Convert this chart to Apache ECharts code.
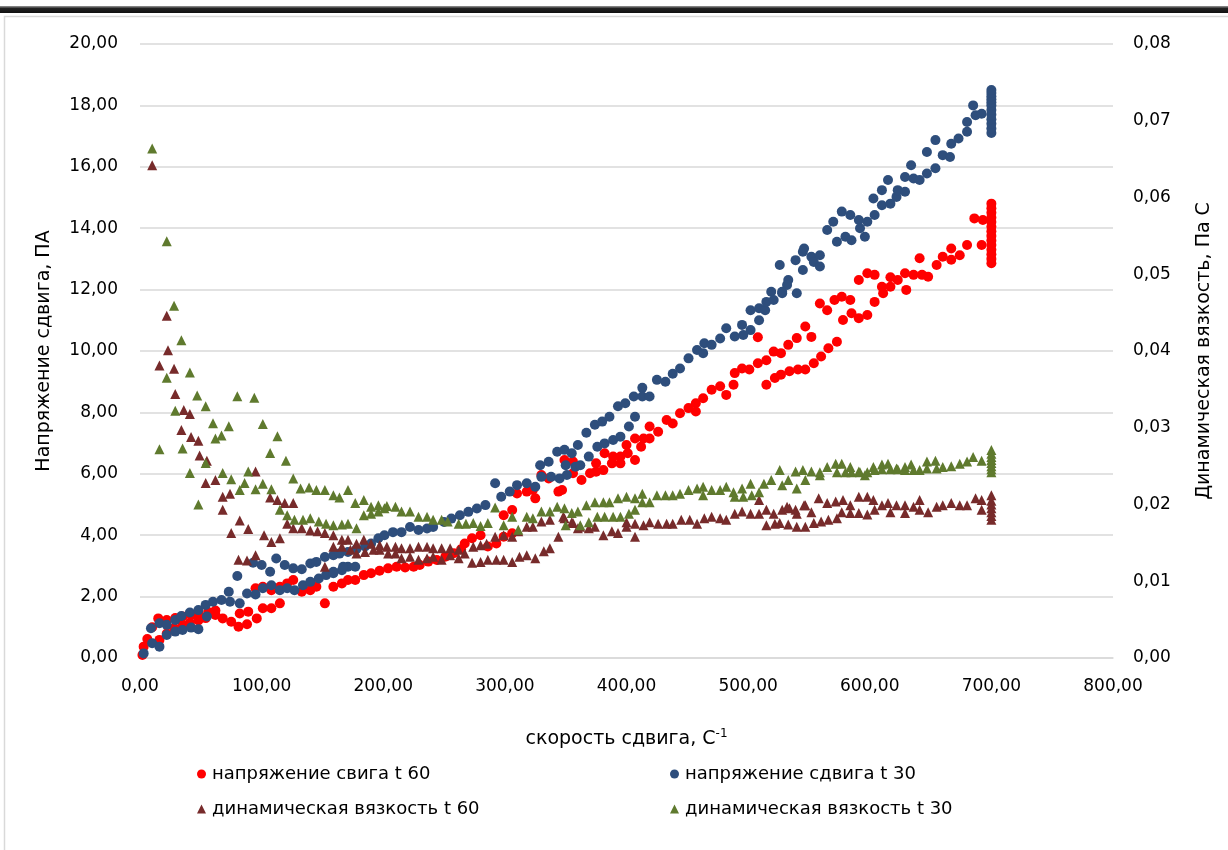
<!DOCTYPE html>
<html>
<head>
<meta charset="utf-8">
<script src="https://cdn.jsdelivr.net/npm/echarts@6/dist/echarts.min.js"></script>
<style>
html,body{margin:0;padding:0;background:#fff;}
#chart{width:1228px;height:850px;}
</style>
</head>
<body>
<div id="chart"></div>
<script>
// ---- data ----
const seriesNames = [
  'напряжение свига t 60',
  'напряжение сдвига t 30',
  'динамическая вязкость t 60',
  'динамическая вязкость t 30'
];
const xAxisTitle = 'скорость сдвига, С';
const xAxisTitleSup = '-1';
const yLeftTitle = 'Напряжение сдвига, ПА';
const yRightTitle = 'Динамическая вязкость, Па С';

// shear stress t 60 (left axis)
const redStress = [
[2,0.10],[3,0.37],[6,0.62],[10,1.00],[15,1.29],[16,0.59],[22,1.24],[22,0.80],[28,0.98],[29,1.30],
[35,1.08],[35,1.35],[41,1.15],[42,1.40],[48,1.22],[48,1.45],[54,1.30],[56,1.50],[62,1.40],[62,1.55],
[68,1.29],[75,1.18],[81,1.02],[82,1.45],[88,1.10],[89,1.51],[96,1.29],[95,2.27],[101,1.62],[101,2.32],
[108,1.62],[108,2.21],[115,1.78],[115,2.32],[121,2.43],[126,2.54],[133,2.16],[140,2.21],[145,2.32],[152,1.78],
[159,2.32],[166,2.43],[171,2.54],[177,2.54],[184,2.70],[190,2.76],[197,2.84],[204,2.92],[211,2.97],[218,2.95],
[225,2.97],[230,3.03],[237,3.14],[244,3.19],[251,3.30],[258,3.41],[264,3.54],[267,3.73],[273,3.90],[280,4.00],
[286,3.63],[293,3.73],[299,3.95],[306,4.06],[299,4.65],[306,4.82],[310,5.36],[318,5.42],[325,5.20],[323,5.47],
[330,5.96],[336,5.85],[344,5.42],[347,5.47],[349,6.45],[356,6.40],[356,6.02],[363,5.80],[370,6.02],[375,6.34],
[375,6.07],[381,6.12],[382,6.67],[388,6.34],[389,6.56],[395,6.34],[395,6.56],[400,6.94],[401,6.67],[407,6.45],
[407,7.15],[412,6.88],[414,7.15],[419,7.54],[419,7.15],[426,7.37],[433,7.75],[438,7.64],[444,7.97],[451,8.14],
[457,8.03],[457,8.30],[463,8.46],[470,8.74],[477,8.85],[482,8.57],[488,8.90],[489,9.28],[495,9.43],[501,9.40],
[508,9.60],[508,10.45],[515,9.70],[521,9.98],[527,9.93],[533,10.20],[540,10.42],[547,10.80],[515,8.90],[522,9.12],
[527,9.23],[534,9.34],[541,9.40],[547,9.40],[554,9.60],[560,9.82],[566,10.09],[573,10.30],[552,10.46],[559,11.55],
[565,11.33],[571,11.66],[577,11.77],[584,11.66],[578,11.01],[585,11.23],[591,11.07],[598,11.17],[604,11.60],[591,12.31],
[598,12.53],[604,12.48],[610,12.09],[611,11.88],[617,12.40],[617,12.09],[623,12.31],[629,12.53],[630,11.99],[636,12.48],
[641,13.02],[643,12.48],[648,12.42],[655,12.80],[660,13.07],[667,12.97],[667,13.34],[674,13.12],[680,13.45],[686,14.32],
[692,13.45],[693,14.27],
[700,12.86],[700,13.00],[700,13.15],[700,13.30],[700,13.45],[700,13.60],[700,13.75],[700,13.90],[700,14.05],[700,14.20],
[700,14.35],[700,14.50],[700,14.65],[700,14.80]
];

// shear stress t 30 (left axis)
const blueStress = [
[3,0.15],[10,0.48],[16,0.37],[9,0.97],[16,1.13],[22,1.08],[29,1.24],[34,1.37],[41,1.48],[48,1.56],
[54,1.73],[60,1.83],[67,1.89],[22,0.75],[29,0.86],[35,0.91],[42,0.99],[48,0.94],[55,1.35],[73,2.16],
[80,2.67],[74,1.83],[82,1.78],[88,2.10],[95,2.07],[101,2.27],[108,2.37],[115,2.21],[121,2.27],[127,2.21],
[134,2.37],[140,2.48],[147,2.59],[153,2.70],[159,2.81],[166,2.86],[171,2.97],[159,2.76],[167,2.97],[177,2.97],
[93,3.10],[100,3.03],[107,2.81],[112,3.24],[119,3.03],[126,2.92],[133,2.89],[140,3.08],[145,3.13],[152,3.29],
[159,3.35],[164,3.40],[171,3.45],[178,3.55],[185,3.63],[190,3.73],[196,3.90],[201,4.00],[208,4.10],[215,4.10],
[222,4.27],[229,4.17],[236,4.22],[241,4.27],[250,4.43],[256,4.54],[263,4.65],[270,4.76],[277,4.87],[284,4.98],
[292,5.69],[297,5.25],[304,5.42],[310,5.63],[318,5.69],[325,5.58],[329,6.28],[336,6.39],[343,6.72],[349,6.78],
[355,6.67],[360,6.94],[330,5.90],[338,5.90],[345,5.85],[351,5.96],[358,6.23],[350,6.28],[362,6.28],[369,6.56],
[376,6.88],[382,6.99],[389,7.10],[395,7.21],[402,7.54],[407,7.86],[367,7.34],[374,7.60],[380,7.70],[386,7.86],
[393,8.20],[399,8.30],[406,8.52],[413,8.80],[413,8.52],[419,8.52],[425,9.06],[432,9.00],[438,9.26],[444,9.43],
[451,9.76],[458,10.03],[463,9.93],[464,10.25],[470,10.20],[477,10.41],[482,10.74],[489,10.47],[495,10.85],[496,10.52],
[502,10.68],[509,11.00],[502,11.33],[509,11.39],[514,11.33],[515,11.60],[521,11.66],[519,11.93],[528,11.88],[533,12.31],
[540,11.88],[526,12.80],[539,12.96],[545,12.64],[545,13.23],[532,12.15],[528,11.93],[546,13.34],[552,13.07],[554,12.90],
[559,13.12],[559,12.75],[565,13.94],[570,14.21],[573,13.56],[577,14.54],[580,13.72],[584,14.43],[585,13.61],[591,14.27],
[592,14.00],[596,13.72],[598,14.21],[604,14.43],[603,14.97],[610,14.75],[610,15.24],[615,15.57],[617,14.80],[622,15.02],
[623,15.24],[629,15.19],[629,15.67],[634,16.05],[636,15.62],[641,15.57],[647,15.78],[647,16.48],[654,16.87],[654,15.95],
[660,16.38],[666,16.32],[667,16.75],[673,16.92],[680,17.14],[680,17.46],[685,18.00],[687,17.68],[692,17.73],
[700,17.10],[700,17.25],[700,17.40],[700,17.55],[700,17.70],[700,17.85],[700,18.00],[700,18.10],[700,18.20],[700,18.30],
[700,18.40],[700,18.50]
];

// dynamic viscosity t 60 (right axis)
const brownVisc = [
[10,0.0642],[22,0.0446],[23,0.0401],[16,0.0381],[28,0.0377],[29,0.0344],[36,0.0323],[41,0.0318],[34,0.0297],[42,0.0288],
[48,0.0283],[49,0.0264],[55,0.0257],[54,0.0228],[62,0.0232],[68,0.0210],[74,0.0214],[68,0.0193],[75,0.0163],[82,0.0179],
[89,0.0168],[95,0.0243],[81,0.0128],[88,0.0127],[95,0.0134],[102,0.0160],[108,0.0151],[107,0.0209],[113,0.0206],[119,0.0202],
[126,0.0202],[121,0.0175],[126,0.0169],[133,0.0169],[140,0.0166],[146,0.0165],[152,0.0163],[115,0.0156],[152,0.0119],
[159,0.0160],[166,0.0154],[171,0.0154],[178,0.0149],[184,0.0154],[190,0.0149],[197,0.0147],[203,0.0145],[210,0.0145],[215,0.0143],
[222,0.0143],[229,0.0145],[236,0.0145],[241,0.0143],[248,0.0143],[255,0.0143],[262,0.0141],[267,0.0136],[274,0.0145],[280,0.0147],
[285,0.0149],[292,0.0158],[299,0.0160],[306,0.0158],[311,0.0165],[318,0.0171],[323,0.0171],[330,0.0178],[337,0.0180],[344,0.0158],
[349,0.0182],[356,0.0176],[360,0.0169],
[159,0.0145],[166,0.0145],[173,0.0141],[178,0.0136],[185,0.0138],[192,0.0141],[197,0.0141],[204,0.0136],[210,0.0136],[215,0.0130],
[222,0.0132],[229,0.0128],[236,0.0130],[241,0.0132],[248,0.0128],[255,0.0134],[262,0.0130],[273,0.0124],[280,0.0125],[286,0.0128],
[293,0.0128],[299,0.0128],[306,0.0125],[312,0.0132],[318,0.0134],[325,0.0130],[332,0.0139],[337,0.0143],
[348,0.0184],[355,0.0177],[362,0.0171],[369,0.0169],[374,0.0171],[381,0.0160],[388,0.0165],[393,0.0163],[400,0.0171],[407,0.0158],
[400,0.0177],[407,0.0175],[414,0.0173],[419,0.0177],[426,0.0175],[433,0.0175],[438,0.0175],[445,0.0180],[452,0.0180],[458,0.0175],
[464,0.0182],[470,0.0184],[477,0.0182],[482,0.0180],[489,0.0188],[495,0.0191],[502,0.0188],[509,0.0206],[509,0.0188],[515,0.0193],
[521,0.0188],[528,0.0193],[534,0.0195],[540,0.0188],[547,0.0199],
[515,0.0173],[522,0.0175],[526,0.0176],[533,0.0174],[540,0.0171],[547,0.0171],[554,0.0176],[560,0.0178],[566,0.0180],[573,0.0182],
[532,0.0197],[539,0.0193],[546,0.0199],[552,0.0190],[558,0.0208],[565,0.0202],[572,0.0204],[578,0.0206],[577,0.0190],[584,0.0199],
[584,0.0189],[591,0.0210],[591,0.0189],[598,0.0210],[598,0.0187],[603,0.0206],[604,0.0193],[610,0.0199],[615,0.0202],[617,0.0190],
[622,0.0199],[629,0.0199],[629,0.0189],[636,0.0197],[641,0.0206],[641,0.0193],[648,0.0190],[655,0.0197],[660,0.0199],[667,0.0202],
[674,0.0199],[680,0.0199],[687,0.0208],[692,0.0206],[692,0.0193],
[700,0.0180],[700,0.0185],[700,0.0190],[700,0.0195],[700,0.0200],[700,0.0205],[700,0.0212]
];

// dynamic viscosity t 30 (right axis)
const greenVisc = [
[10,0.0664],[22,0.0543],[28,0.0459],[34,0.0414],[22,0.0365],[41,0.0372],[47,0.0342],[80,0.0341],[94,0.0339],[54,0.0328],
[29,0.0322],[60,0.0306],[73,0.0302],[101,0.0305],[16,0.0272],[35,0.0273],[41,0.0241],[48,0.0200],[54,0.0254],[62,0.0286],
[67,0.0290],[68,0.0241],[75,0.0233],[82,0.0219],[86,0.0228],[89,0.0243],[95,0.0220],[101,0.0227],[107,0.0267],[108,0.0220],
[113,0.0289],[115,0.0193],[120,0.0257],[121,0.0186],[126,0.0234],[127,0.0180],[132,0.0221],[134,0.0180],[139,0.0222],[140,0.0182],
[145,0.0219],[147,0.0178],[152,0.0219],[153,0.0175],[159,0.0212],[159,0.0173],[164,0.0209],[166,0.0174],[171,0.0219],[171,0.0175],
[177,0.0202],[178,0.0169],[184,0.0206],[184,0.0186],[190,0.0197],[190,0.0188],[196,0.0199],[196,0.0191],[203,0.0198],[201,0.0195],
[210,0.0197],[215,0.0191],[222,0.0191],[229,0.0184],[236,0.0184],[241,0.0180],[248,0.0180],[253,0.0178],
[262,0.0175],[268,0.0175],[274,0.0176],[280,0.0172],[286,0.0176],[292,0.0196],[299,0.0173],[306,0.0184],[311,0.0167],[318,0.0184],
[323,0.0182],[330,0.0191],[337,0.0191],[343,0.0197],[349,0.0195],[355,0.0189],[360,0.0191],
[367,0.0199],[374,0.0203],[381,0.0203],[386,0.0203],[393,0.0208],[400,0.0210],[407,0.0208],[413,0.0214],[413,0.0203],[419,0.0203],
[425,0.0212],[432,0.0212],[438,0.0212],[444,0.0214],[451,0.0219],[458,0.0221],[463,0.0223],[463,0.0212],[470,0.0219],[477,0.0219],
[482,0.0223],[488,0.0216],[489,0.0210],[495,0.0221],[496,0.0210],[502,0.0227],[503,0.0212],[509,0.0216],[513,0.0227],[519,0.0232],
[526,0.0245],[528,0.0225],[533,0.0232],[539,0.0243],[540,0.0221],[545,0.0245],[547,0.0232],
[350,0.0173],[362,0.0173],[369,0.0177],[376,0.0184],[382,0.0184],[389,0.0184],[395,0.0184],[402,0.0188],[407,0.0193],
[552,0.0243],[559,0.0238],[559,0.0242],[565,0.0249],[572,0.0253],[573,0.0242],[577,0.0253],[580,0.0242],[584,0.0249],[585,0.0242],
[591,0.0243],[592,0.0242],[596,0.0238],[598,0.0242],[603,0.0249],[604,0.0245],[610,0.0252],[610,0.0246],[615,0.0253],[617,0.0246],
[622,0.0247],[623,0.0246],[629,0.0249],[629,0.0245],[634,0.0252],[636,0.0245],[641,0.0245],[647,0.0256],[647,0.0247],[654,0.0257],
[655,0.0247],[660,0.0249],[667,0.0250],[674,0.0253],[680,0.0256],[685,0.0262],[692,0.0257],
[700,0.0242],[700,0.0246],[700,0.0250],[700,0.0254],[700,0.0258],[700,0.0262],[700,0.0266],[700,0.0271]
];

// ---- chart ----
const FONT = 'DejaVu Sans';
const colors = ['#ff0000', '#2e4e7c', '#772b2b', '#5f7a2e'];
const fmt = v => v.toFixed(2).replace('.', ',');

const chart = echarts.init(document.getElementById('chart'), null, {renderer: 'canvas'});

function scatter(idx, data, symbol, yAxisIndex) {
  return {
    name: seriesNames[idx],
    type: 'scatter',
    yAxisIndex: yAxisIndex,
    symbol: symbol,
    symbolSize: 10,
    itemStyle: {color: colors[idx], opacity: 1},
    data: data,
    z: 2 + idx
  };
}

chart.setOption({
  animation: false,
  textStyle: {fontFamily: FONT},
  grid: {left: 140, right: 115, top: 44, bottom: 192, containLabel: false},
  graphic: [
    {type: 'rect', shape: {x: 0, y: 6, width: 1228, height: 7},
     style: {fill: new echarts.graphic.LinearGradient(0, 0, 0, 1, [
       {offset: 0, color: '#9a9a9a'}, {offset: 0.35, color: '#222'}, {offset: 1, color: '#111'}])}, z: 100},
    {type: 'rect', shape: {x: 4.5, y: 16.5, width: 1240, height: 850},
     style: {fill: 'none', stroke: '#d9d9d9', lineWidth: 1.5}, z: 100}
  ],
  legend: [
    {
      orient: 'vertical', left: 192, top: 759, itemGap: 15,
      itemWidth: 9, itemHeight: 9, itemStyle: {borderWidth: 0},
      textStyle: {fontFamily: FONT, fontSize: 18, color: '#000', lineHeight: 20, padding: [0,0,0,1]},
      data: [{name: seriesNames[0], icon: 'circle'}, {name: seriesNames[2], icon: 'triangle'}]
    },
    {
      orient: 'vertical', left: 665, top: 759, itemGap: 15,
      itemWidth: 9, itemHeight: 9, itemStyle: {borderWidth: 0},
      textStyle: {fontFamily: FONT, fontSize: 18, color: '#000', lineHeight: 20, padding: [0,0,0,1]},
      data: [{name: seriesNames[1], icon: 'circle'}, {name: seriesNames[3], icon: 'triangle'}]
    }
  ],
  xAxis: {
    type: 'value', min: 0, max: 800, interval: 100,
    name: '{a|' + xAxisTitle + '}{s|' + xAxisTitleSup + '}',
    nameLocation: 'middle', nameGap: 70,
    nameTextStyle: {
      rich: {
        a: {fontFamily: FONT, fontSize: 19, color: '#000'},
        s: {fontFamily: FONT, fontSize: 12, color: '#000', verticalAlign: 'top', padding: [0,0,10,0]}
      }
    },
    axisLine: {show: true, lineStyle: {color: '#d9d9d9', width: 1.5}},
    axisTick: {show: false},
    splitLine: {show: false},
    axisLabel: {fontFamily: FONT, fontSize: 17, color: '#000', margin: 20, formatter: fmt}
  },
  yAxis: [
    {
      type: 'value', min: 0, max: 20, interval: 2, position: 'left',
      name: yLeftTitle, nameLocation: 'middle', nameGap: 86, nameRotate: 90,
      nameTextStyle: {fontFamily: FONT, fontSize: 19, color: '#000'},
      axisLine: {show: false}, axisTick: {show: false},
      splitLine: {show: true, lineStyle: {color: '#d9d9d9', width: 1.5}},
      axisLabel: {fontFamily: FONT, fontSize: 17, color: '#000', margin: 22, formatter: fmt}
    },
    {
      type: 'value', min: 0, max: 0.08, interval: 0.01, position: 'right',
      name: yRightTitle, nameLocation: 'middle', nameGap: 82, nameRotate: 90,
      nameTextStyle: {fontFamily: FONT, fontSize: 19, color: '#000'},
      axisLine: {show: false}, axisTick: {show: false},
      splitLine: {show: false},
      axisLabel: {fontFamily: FONT, fontSize: 17, color: '#000', margin: 20, formatter: fmt}
    }
  ],
  series: [
    scatter(0, redStress, 'circle', 0),
    scatter(1, blueStress, 'circle', 0),
    scatter(2, brownVisc, 'triangle', 1),
    scatter(3, greenVisc, 'triangle', 1)
  ]
});
</script>
</body>
</html>
